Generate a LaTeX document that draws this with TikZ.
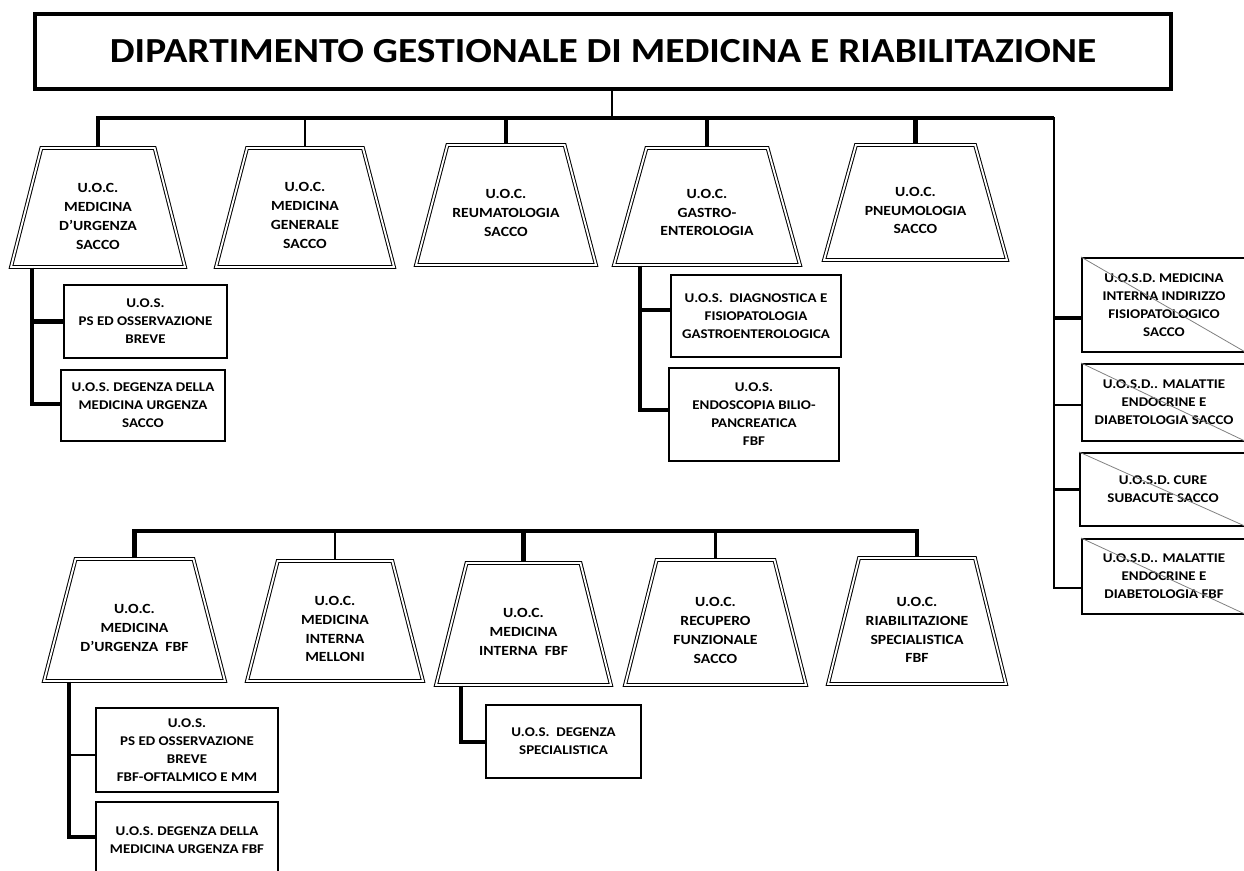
\documentclass[tikz,border=0pt]{standalone}
\usepackage{fontspec}
\setmainfont{Carlito}[FakeStretch=1.12]
\usetikzlibrary{shapes.geometric,calc}

\newcommand{\boxfont}{\fontsize{10}{13.5}\selectfont\bfseries}
\newcommand{\uocfont}{\fontsize{10.5}{14.2}\selectfont\bfseries}

\tikzset{
  uoc/.style={trapezium, trapezium stretches=true, trapezium left angle=75,
    trapezium right angle=75, draw, line width=0.75pt, double, double distance=1.4pt,
    inner sep=2pt},
  uoctext/.style={align=center, inner sep=0pt, font=\uocfont},
  uos/.style={rectangle, draw, line width=1.5pt, inner sep=0pt, align=center, font=\boxfont},
  slash/.style={draw=gray, line width=0.6pt},
  bus/.style={line width=3.2pt},
  link/.style={line width=2.2pt},
}

\begin{document}
\begin{tikzpicture}[x=0.75pt,y=0.75pt,yscale=-1,xscale=1]
\useasboundingbox (0,0) rectangle (1244,870);

% Title
\node[draw, line width=3pt, minimum width=852pt, minimum height=56.25pt,
  font=\fontsize{26.4}{30}\selectfont\bfseries] (dip) at (603,51.5)
  {DIPARTIMENTO GESTIONALE DI MEDICINA E RIABILITAZIONE};

% U.O.C. top row
\node[uoc, minimum width=130.5pt, minimum height=89.25pt] (medurg) at (98,207.5) {};
\node[uoc, minimum width=133.5pt, minimum height=89.25pt] (medgen) at (305,207.5) {};
\node[uoc, minimum width=135pt, minimum height=90pt] (reuma) at (506,205) {};
\node[uoc, minimum width=139.5pt, minimum height=87.75pt] (gastro) at (707,206.5) {};
\node[uoc, minimum width=137.25pt, minimum height=86.25pt] (pneumo) at (915.5,202.5) {};

\node[uoctext] (medurgtxt) at ($(medurg)+(0,9)$) {U.O.C.\\MEDICINA\\D'URGENZA\\SACCO};
\node[uoctext] (medgentxt) at ($(medgen)+(0,8)$) {U.O.C.\\MEDICINA\\GENERALE\\SACCO};
\node[uoctext] (reumatxt) at ($(reuma)+(0,8)$) {U.O.C.\\REUMATOLOGIA\\SACCO};
\node[uoctext] (gastrotxt) at ($(gastro)+(0,6)$) {U.O.C.\\GASTRO-\\ENTEROLOGIA};
\node[uoctext] (pneumotxt) at ($(pneumo)+(0,8)$) {U.O.C.\\PNEUMOLOGIA\\SACCO};

% U.O.S. under the top row
\node[uos, minimum width=122.25pt, minimum height=54.75pt] (psbreve) at (145.5,321.5)
  {U.O.S.\\PS ED OSSERVAZIONE\\BREVE};
\node[uos, minimum width=123pt, minimum height=53.25pt] (degsacco) at (143,405.5)
  {U.O.S. DEGENZA DELLA\\MEDICINA URGENZA\\SACCO};
\node[uos, minimum width=127.5pt, minimum height=61.5pt] (diagn) at (756,316)
  {U.O.S.~ DIAGNOSTICA E\\FISIOPATOLOGIA\\GASTROENTEROLOGICA};
\node[uos, minimum width=127.5pt, minimum height=69.75pt] (endo) at (754,414.5)
  {U.O.S.\\ENDOSCOPIA BILIO-\\PANCREATICA\\FBF};

% U.O.S.D. column
\node[uos, minimum width=123pt, minimum height=70.5pt] (uosd1) at (1164,305)
  {U.O.S.D. MEDICINA\\INTERNA INDIRIZZO\\FISIOPATOLOGICO\\SACCO};
\node[uos, minimum width=123pt, minimum height=57.75pt] (uosd2) at (1164,402.5)
  {U.O.S.D.. MALATTIE\\ENDOCRINE E\\DIABETOLOGIA SACCO};
\node[uos, minimum width=124.5pt, minimum height=54.75pt] (uosd3) at (1163,489.5)
  {U.O.S.D. CURE\\SUBACUTE SACCO};
\node[uos, minimum width=123pt, minimum height=56.25pt] (uosd4) at (1164,576.5)
  {U.O.S.D.. MALATTIE\\ENDOCRINE E\\DIABETOLOGIA FBF};
\foreach \n in {uosd1,uosd2,uosd3,uosd4}
  \draw[slash] (\n.north west) -- (\n.south east);

% U.O.C. bottom row
\node[uoc, minimum width=135.75pt, minimum height=91.5pt] (medurgfbf) at (134.5,620) {};
\node[uoc, minimum width=132pt, minimum height=90pt] (medintmel) at (335,621) {};
\node[uoc, minimum width=131.25pt, minimum height=91.5pt] (medintfbf) at (523.5,624) {};
\node[uoc, minimum width=135.75pt, minimum height=93.75pt] (recupero) at (715.5,622.5) {};
\node[uoc, minimum width=133.5pt, minimum height=94.5pt] (riab) at (917,621) {};

\node[uoctext] (medurgfbftxt) at ($(medurgfbf)+(0,8)$) {U.O.C.\\MEDICINA\\D'URGENZA~ FBF};
\node[uoctext] (medintmeltxt) at ($(medintmel)+(0,8)$) {U.O.C.\\MEDICINA\\INTERNA\\MELLONI};
\node[uoctext] (medintfbftxt) at ($(medintfbf)+(0,8)$) {U.O.C.\\MEDICINA\\INTERNA~ FBF};
\node[uoctext] (recuperotxt) at ($(recupero)+(0,8)$) {U.O.C.\\RECUPERO\\FUNZIONALE\\SACCO};
\node[uoctext] (riabtxt) at ($(riab)+(0,9)$) {U.O.C.\\RIABILITAZIONE\\SPECIALISTICA\\FBF};

% U.O.S. under the bottom row
\node[uos, minimum width=136.5pt, minimum height=63pt] (psfbf) at (187,750)
  {U.O.S.\\PS ED OSSERVAZIONE\\BREVE\\FBF-OFTALMICO E MM};
\node[uos, minimum width=136.5pt, minimum height=57.75pt] (degfbf) at (187,840.5)
  {U.O.S. DEGENZA DELLA\\MEDICINA URGENZA FBF};
\node[uos, minimum width=116.25pt, minimum height=54.75pt] (degspec) at (563.5,741.5)
  {U.O.S.~ DEGENZA\\SPECIALISTICA};

% connectors, top part
\coordinate (topbus) at (612,118);
\coordinate (rbus) at (1054,588);
\draw[link] (dip.south -| topbus) -- (topbus);
\draw[bus] (medurg.north) |- (rbus |- topbus);
\draw[link] (medgen.north |- topbus) -- (medgen.north);
\draw[bus] (reuma.north |- topbus) -- (reuma.north);
\draw[bus] (gastro.north |- topbus) -- (gastro.north);
\draw[bus] (pneumo.north |- topbus) -- (pneumo.north);
\draw[link, line cap=rect] (rbus |- topbus) -- (rbus);

\coordinate (medurgbr) at (32,404);
\draw[bus] (medurgbr |- medurg.south) -- (medurgbr) -- (medurgbr -| degsacco.west);
\draw[bus] (medurgbr |- psbreve.west) -- (psbreve.west);

\coordinate (gastrobr) at (640,410);
\coordinate (diagntap) at ($(diagn.west)+(0,-6)$);
\draw[bus] (gastrobr |- gastro.south) -- (gastrobr) -- (gastrobr -| endo.west);
\draw[bus] (gastrobr |- diagntap) -- (diagntap);

\coordinate (tap1) at ($(uosd1.west)+(0,13)$);
\coordinate (tap2) at ($(uosd2.west)+(0,2.5)$);
\coordinate (tap4) at ($(uosd4.west)+(0,11.5)$);
\draw[bus] (tap1 -| rbus) -- (tap1);
\draw[link] (tap2 -| rbus) -- (tap2);
\draw[link] (uosd3.west -| rbus) -- (uosd3.west);
\draw[link] (rbus) -- (tap4);

% connectors, bottom part
\coordinate (botbus) at (917,531);
\draw[bus] (medurgfbf.north) |- (riab.north |- botbus) -- (riab.north);
\draw[link] (medintmel.north |- botbus) -- (medintmel.north);
\draw[bus] (medintfbf.north |- botbus) -- (medintfbf.north);
\draw[link] (recupero.north |- botbus) -- (recupero.north);

\coordinate (fbfbr) at (69,837);
\coordinate (psfbftap) at ($(psfbf.west)+(0,5)$);
\draw[bus] (fbfbr |- medurgfbf.south) -- (fbfbr) -- (fbfbr -| degfbf.west);
\draw[link] (fbfbr |- psfbftap) -- (psfbftap);

\coordinate (intbr) at (461,742);
\draw[bus] (intbr |- medintfbf.south) -- (intbr) -- (intbr -| degspec.west);

\end{tikzpicture}
\end{document}
